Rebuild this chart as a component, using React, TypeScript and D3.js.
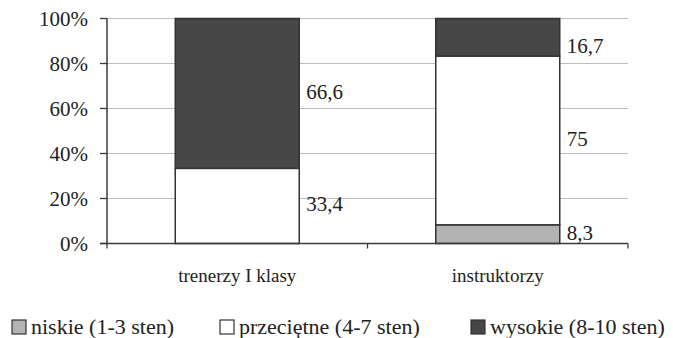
import React from "react";
import * as d3 from "d3";

const categories = ["trenerzy I klasy", "instruktorzy"];
const seriesNames = ["niskie (1-3 sten)", "przeciętne (4-7 sten)", "wysokie (8-10 sten)"];
const niskie = [0, 8.3];
const przecietne = [33.4, 75];
const wysokie = [66.6, 16.7];
const valueLabels = [["", "33,4", "66,6"], ["8,3", "75", "16,7"]];
const yTicks = [0, 20, 40, 60, 80, 100];
const tickLabels = ["0%", "20%", "40%", "60%", "80%", "100%"];

const colors = ["#b3b3b3", "#ffffff", "#474747"];
const FONT = "'Liberation Serif', 'Times New Roman', Times, Tinos, 'Noto Serif', 'DejaVu Serif', FreeSerif, Georgia, serif";

export default function App() {
  const W = 673, H = 338;
  const left = 107, right = 628, top = 18.5, bottom = 243.5;
  const x = d3.scaleBand<string>().domain(categories).range([left, right]).paddingInner(0.524).paddingOuter(0.262);
  const y = d3.scaleLinear().domain([0, 100]).range([bottom, top]);
  const series = [niskie, przecietne, wysokie];
  const stackData = categories.map((c, i) => ({ cat: c, s0: niskie[i], s1: przecietne[i], s2: wysokie[i] }));
  const stack = d3.stack<any>().keys(["s0", "s1", "s2"]);
  const layers = stack(stackData);
  const step = x.step();
  const legendX = [12, 220, 471];

  return (
    <svg width={W} height={H} style={{ position: "absolute", left: 0, top: 0, background: "#fff", fontFamily: FONT }}>
      {yTicks.map((t) => (
        <line key={t} x1={left} x2={right} y1={y(t)} y2={y(t)} stroke="#bdbdbd" strokeWidth={1.2} />
      ))}
      <line x1={left} x2={left} y1={top} y2={bottom} stroke="#3a3a3a" strokeWidth={1.5} />
      {yTicks.map((t, i) => (
        <g key={"t" + t}>
          <line x1={left - 7} x2={left} y1={y(t)} y2={y(t)} stroke="#3a3a3a" strokeWidth={1.3} />
          <text x={88} y={y(t)} dy="0.36em" textAnchor="end" fontSize={21} fill="#222">
            {tickLabels[i]}
          </text>
        </g>
      ))}
      {layers.map((layer, li) =>
        layer.map((d, ci) => {
          const v = d[1] - d[0];
          if (v <= 0) return null;
          return (
            <rect
              key={li + "-" + ci}
              x={x(categories[ci])}
              width={x.bandwidth()}
              y={y(d[1])}
              height={y(d[0]) - y(d[1])}
              fill={colors[li]}
              stroke="#333"
              strokeWidth={1.5}
            />
          );
        })
      )}
      <line x1={left - 7} x2={right} y1={bottom} y2={bottom} stroke="#3a3a3a" strokeWidth={1.5} />
      {[0, 1, 2].map((i) => (
        <line key={"xt" + i} x1={left + step * i} x2={left + step * i} y1={bottom} y2={bottom + 5} stroke="#3a3a3a" strokeWidth={1.3} />
      ))}
      {layers.map((layer, li) =>
        layer.map((d, ci) => {
          const v = series[li][ci];
          if (v <= 0) return null;
          const mid = (y(d[0]) + y(d[1])) / 2;
          const yy = Math.max(mid - 2, top + 27);
          return (
            <text
              key={"v" + li + ci}
              x={(x(categories[ci]) as number) + x.bandwidth() + 7}
              y={yy}
              dy="0.36em"
              fontSize={21}
              fill="#222"
            >
              {valueLabels[ci][li]}
            </text>
          );
        })
      )}
      {categories.map((c) => (
        <text
          key={c}
          x={(x(c) as number) + x.bandwidth() / 2}
          y={282}
          textAnchor="middle"
          fontSize={19}
          fill="#222"
        >
          {c}
        </text>
      ))}
      {seriesNames.map((n, i) => (
        <g key={n}>
          <rect x={legendX[i]} y={320} width={14} height={14} fill={colors[i]} stroke="#333" strokeWidth={1.2} />
          <text x={legendX[i] + 19} y={334} fontSize={22} fill="#222">
            {n}
          </text>
        </g>
      ))}
    </svg>
  );
}
